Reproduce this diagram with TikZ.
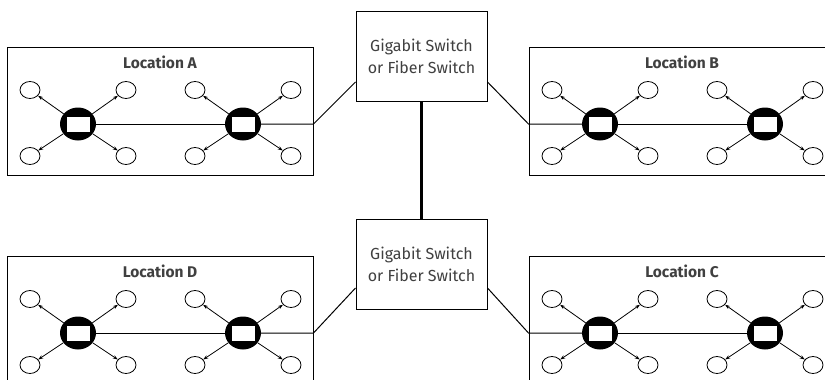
\documentclass[tikz,border=0pt]{standalone}
\usepackage{fontspec}
\setmainfont{Fira Sans}
\usetikzlibrary{shapes.geometric,arrows.meta}

\tikzset{
  sitebox/.style={draw, line width=1pt, minimum width=306pt, minimum height=128pt, inner sep=0pt},
  sitetitle/.style={text=black!75, font=\fontsize{15.5}{17}\selectfont\bfseries, inner sep=0pt},
  hub/.style={ellipse, fill=black, minimum width=36pt, minimum height=33pt, inner sep=0pt},
  hubcore/.style={draw, fill=white, line width=0.7pt, minimum width=24pt, minimum height=16pt, inner sep=0pt},
  host/.style={ellipse, draw, line width=0.8pt, minimum width=20pt, minimum height=17pt, inner sep=0pt},
  link/.style={line width=0.8pt, -{Stealth[length=5pt,width=3.5pt]}},
  switchbox/.style={draw, fill=white, line width=1pt, minimum width=131pt, minimum height=90pt,
    align=center, text=black!75, font=\fontsize{16}{22}\selectfont},
  wire/.style={line width=1pt},
  trunk/.style={line width=2.8pt}
}

% one location: name, left x, top y, label
\newcommand\site[4]{%
  \node [sitebox] (#1) at (#2+153,#3+64) {};
  \node [sitetitle] (#1t) at (#2+153,#3+15) {#4};
  \foreach \h/\hx in {1/71,2/236}{
    \node [hub] (#1\h) at (#2+\hx,#3+77) {};
    \node [hubcore] (#1\h-in) at (#1\h) {};
    \foreach \l/\dx/\dy in {a/-48/-34,b/48/-34,c/-48/32,d/48/32}{
      \node [host] (#1\h\l) at (#2+\hx+\dx,#3+77+\dy) {};
      \draw [link] (#1\h) -- (#1\h\l);
    }
  }
  \draw [wire] (#11) -- (#12);
}

\begin{document}
\begin{tikzpicture}[x=1pt, y=-1pt]

\clip (0,0) rectangle (825,380);
\useasboundingbox (0,0) rectangle (825,380);

\site{A}{7}{47}{Location A}
\site{B}{529}{47}{Location B}
\site{D}{7}{256}{Location D}
\site{C}{529}{256}{Location C}

\node [switchbox] (sw1) at (421.5,56) {Gigabit Switch\\or Fiber Switch};
\node [switchbox] (sw2) at (421.5,264) {Gigabit Switch\\or Fiber Switch};

\coordinate (sw1l) at ([yshift=-26pt]sw1.west);
\coordinate (sw1r) at ([yshift=-26pt]sw1.east);
\coordinate (sw2l) at ([yshift=-24pt]sw2.west);
\coordinate (sw2r) at ([yshift=-24pt]sw2.east);

\draw [trunk] (sw1) -- (sw2);

\draw [wire] (A2) -- (A2 -| A.east) -- (sw1l);
\draw [wire] (B1) -- (B1 -| B.west) -- (sw1r);
\draw [wire] (D2) -- (D2 -| D.east) -- (sw2l);
\draw [wire] (C1) -- (C1 -| C.west) -- (sw2r);

\end{tikzpicture}
\end{document}
